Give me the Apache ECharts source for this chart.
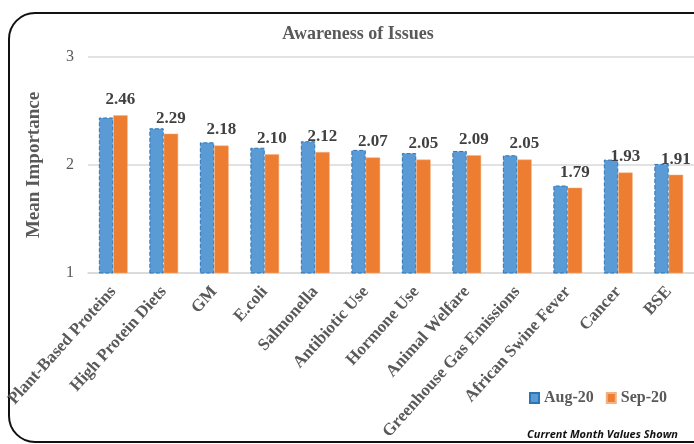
<!DOCTYPE html>
<html>
<head>
<meta charset="utf-8">
<script src="https://cdn.jsdelivr.net/npm/echarts@6/dist/echarts.min.js"></script>
<style>
  html, body { margin: 0; padding: 0; background: #fff; }
  #chart { width: 694px; height: 444px; }
</style>
</head>
<body>
<div id="chart"></div>
<script>
const categories = [
  'Plant-Based Proteins', 'High Protein Diets', 'GM', 'E.coli', 'Salmonella',
  'Antibiotic Use', 'Hormone Use', 'Animal Welfare', 'Greenhouse Gas Emissions',
  'African Swine Fever', 'Cancer', 'BSE'
];
const aug20 = [2.44, 2.34, 2.21, 2.16, 2.22, 2.14, 2.11, 2.13, 2.09, 1.81, 2.05, 2.01];
const sep20 = [2.46, 2.29, 2.18, 2.10, 2.12, 2.07, 2.05, 2.09, 2.05, 1.79, 1.93, 1.91];
const yTicks = [1, 2, 3];

const gray = '#595959';
const serif = '"Liberation Serif", "Times New Roman", serif';

const chart = echarts.init(document.getElementById('chart'));

const option = {
  animation: false,
  title: {
    text: 'Awareness of Issues',
    left: 353,
    top: 20,
    textAlign: 'center',
    textStyle: {
      fontFamily: serif,
      fontSize: 18,
      fontWeight: 'bold',
      color: gray
    }
  },
  legend: {
    data: ['Aug-20', 'Sep-20'],
    icon: 'rect',
    right: 22,
    top: 385,
    itemWidth: 9,
    itemHeight: 10,
    itemGap: 12,
    textStyle: {
      fontFamily: serif,
      fontSize: 16,
      fontWeight: 'bold',
      color: gray
    }
  },
  grid: {
    left: 88,
    right: -5,
    top: 57,
    bottom: 171
  },
  graphic: [
    {
      type: 'rect',
      shape: { x: 9, y: 13, width: 710, height: 429, r: 26 },
      style: { fill: 'none', stroke: '#111', lineWidth: 2 },
      silent: true
    },
    {
      type: 'text',
      right: 16,
      top: 429,
      style: {
        text: 'Current Month Values Shown',
        font: 'italic bold 11px "Open Sans", "Liberation Sans", sans-serif',
        fill: '#111'
      }
    }
  ],
  xAxis: {
    type: 'category',
    data: categories,
    axisTick: { show: false },
    axisLine: { lineStyle: { color: '#d9d9d9', width: 1.5 } },
    axisLabel: {
      interval: 0,
      rotate: 48,
      margin: 16,
      fontFamily: serif,
      fontSize: 17,
      fontWeight: 'bold',
      color: gray
    }
  },
  yAxis: {
    type: 'value',
    min: yTicks[0],
    max: yTicks[yTicks.length - 1],
    interval: 1,
    name: 'Mean Importance',
    nameLocation: 'middle',
    nameGap: 44,
    nameTextStyle: {
      fontFamily: serif,
      fontSize: 19,
      fontWeight: 'bold',
      color: gray
    },
    axisLine: { show: false },
    axisTick: { show: false },
    splitLine: { lineStyle: { color: '#d9d9d9', width: 1.5 } },
    axisLabel: {
      margin: 14,
      fontFamily: serif,
      fontSize: 16,
      color: gray
    }
  },
  series: [
    {
      name: 'Aug-20',
      type: 'bar',
      data: aug20,
      barGap: '0%',
      barCategoryGap: '43%',
      itemStyle: {
        color: '#5b9bd5',
        borderColor: '#2e75b6',
        borderWidth: 1,
        borderType: 'dashed'
      }
    },
    {
      name: 'Sep-20',
      type: 'bar',
      data: sep20,
      barGap: '0%',
      barCategoryGap: '43%',
      itemStyle: {
        color: '#ed7d31',
        borderColor: '#f4b183',
        borderWidth: 0.5
      },
      label: {
        show: true,
        position: 'top',
        distance: 7,
        formatter: p => p.value.toFixed(2),
        fontFamily: serif,
        fontSize: 17,
        fontWeight: 'bold',
        color: '#404040'
      }
    }
  ]
};

chart.setOption(option);
</script>
</body>
</html>
